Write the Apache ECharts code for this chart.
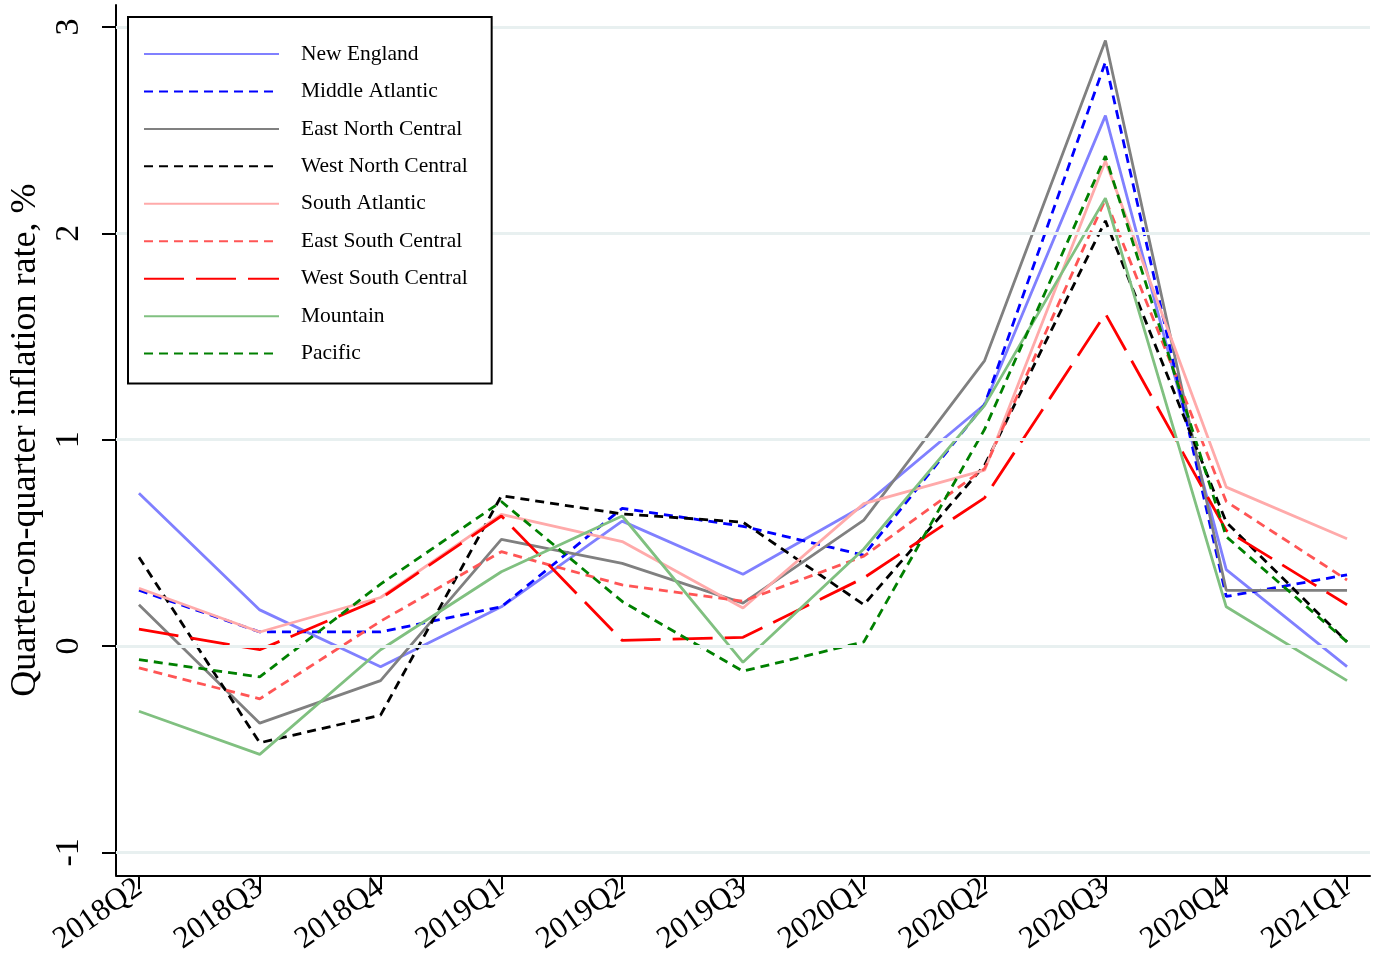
<!DOCTYPE html>
<html>
<head>
<meta charset="utf-8">
<script src="https://cdn.jsdelivr.net/npm/echarts@6/dist/echarts.min.js"></script>
<style>
html, body { margin: 0; padding: 0; background: #fff; }
#chart { width: 1379px; height: 957px; }
</style>
</head>
<body>
<div id="chart"></div>
<script>
// quarters on the x axis
var quarters = ['2018Q2', '2018Q3', '2018Q4', '2019Q1', '2019Q2', '2019Q3', '2020Q1', '2020Q2', '2020Q3', '2020Q4', '2021Q1'];
var yTicks = [-1, 0, 1, 2, 3];

// quarter-on-quarter inflation by census division, %
var newEngland       = [0.74, 0.175, -0.10, 0.19, 0.605, 0.348, 0.68, 1.17, 2.57, 0.37, -0.10];
var middleAtlantic   = [0.27, 0.068, 0.068, 0.19, 0.667, 0.58, 0.44, 1.17, 2.83, 0.24, 0.345];
var eastNorthCentral = [0.20, -0.374, -0.168, 0.517, 0.40, 0.208, 0.61, 1.383, 2.934, 0.27, 0.27];
var westNorthCentral = [0.43, -0.469, -0.335, 0.728, 0.64, 0.60, 0.20, 0.876, 2.06, 0.60, 0.02];
var southAtlantic    = [0.28, 0.068, 0.235, 0.638, 0.506, 0.184, 0.69, 0.852, 2.35, 0.77, 0.52];
var eastSouthCentral = [-0.106, -0.256, 0.12, 0.457, 0.296, 0.217, 0.435, 0.86, 2.164, 0.70, 0.32];
var westSouthCentral = [0.082, -0.018, 0.23, 0.63, 0.027, 0.042, 0.33, 0.718, 1.61, 0.56, 0.20];
var mountain         = [-0.316, -0.525, -0.018, 0.36, 0.63, -0.079, 0.47, 1.166, 2.17, 0.19, -0.168];
var pacific          = [-0.066, -0.15, 0.30, 0.70, 0.216, -0.122, 0.02, 1.05, 2.374, 0.53, 0.02];

var FONT = '"Liberation Serif", "DejaVu Serif", serif';
var shortDash = [9, 6];
var longDash = [40, 12];

var lines = [
    { name: 'New England', data: newEngland, color: '#8080ff', type: 'solid' },
    { name: 'Middle Atlantic', data: middleAtlantic, color: '#0000ff', type: shortDash },
    { name: 'East North Central', data: eastNorthCentral, color: '#808080', type: 'solid' },
    { name: 'West North Central', data: westNorthCentral, color: '#000000', type: shortDash },
    { name: 'South Atlantic', data: southAtlantic, color: '#ffaaaa', type: 'solid' },
    { name: 'East South Central', data: eastSouthCentral, color: '#ff5555', type: shortDash },
    { name: 'West South Central', data: westSouthCentral, color: '#ff0000', type: longDash },
    { name: 'Mountain', data: mountain, color: '#80c080', type: 'solid' },
    { name: 'Pacific', data: pacific, color: '#008000', type: shortDash }
];

var idx = quarters.map(function (q, i) { return i; });

var series = [{
    // horizontal grid lines, drawn under the data
    name: 'grid',
    type: 'line',
    data: [],
    z: 0,
    silent: true,
    markLine: {
        silent: true,
        symbol: 'none',
        label: { show: false },
        lineStyle: { color: '#e8f0f0', width: 3, type: 'solid' },
        data: yTicks.map(function (v) { return { yAxis: v }; })
    }
}];
lines.forEach(function (s) {
    series.push({
        name: s.name,
        type: 'line',
        z: 2,
        symbol: 'none',
        data: s.data.map(function (v, i) { return [idx[i], v]; }),
        itemStyle: { color: s.color },
        lineStyle: { color: s.color, width: 2.8, type: s.type }
    });
});

var chart = echarts.init(document.getElementById('chart'));
chart.setOption({
    animation: false,
    backgroundColor: '#fff',
    grid: { left: 115, right: 9, top: 5, bottom: 78, containLabel: false },
    legend: {
        z: 10,
        data: lines.map(function (s) { return s.name; }),
        orient: 'vertical',
        left: 128,
        top: 17,
        padding: [26, 24, 19, 15],
        itemWidth: 135,
        itemHeight: 22,
        itemGap: 15.45,
        borderColor: '#000',
        borderWidth: 2,
        backgroundColor: '#fff',
        itemStyle: { opacity: 0 },
        textStyle: { fontFamily: FONT, fontSize: 21.5, color: '#000', padding: [0, 0, 0, 17] }
    },
    xAxis: {
        type: 'value',
        min: -0.19,
        max: 10.19,
        axisLine: { show: true, onZero: false, lineStyle: { color: '#000', width: 2 } },
        axisTick: { show: true, customValues: idx, length: 14, lineStyle: { color: '#000', width: 2 } },
        splitLine: { show: false },
        axisLabel: {
            customValues: idx,
            rotate: 35,
            margin: 10,
            fontFamily: FONT,
            fontSize: 31,
            color: '#000',
            formatter: function (v) { return quarters[Math.round(v)]; }
        }
    },
    yAxis: {
        type: 'value',
        min: -1.111,
        max: 3.106,
        name: 'Quarter-on-quarter inflation rate, %',
        nameLocation: 'middle',
        nameRotate: 90,
        nameGap: 72,
        nameTextStyle: { fontFamily: FONT, fontSize: 36, color: '#000' },
        axisLine: { show: true, onZero: false, lineStyle: { color: '#000', width: 2 } },
        axisTick: { show: true, customValues: yTicks, length: 14, lineStyle: { color: '#000', width: 2 } },
        splitLine: { show: false },
        axisLabel: {
            customValues: yTicks,
            rotate: 90,
            margin: 30,
            fontFamily: FONT,
            fontSize: 34,
            color: '#000'
        }
    },
    series: series
});
</script>
</body>
</html>
